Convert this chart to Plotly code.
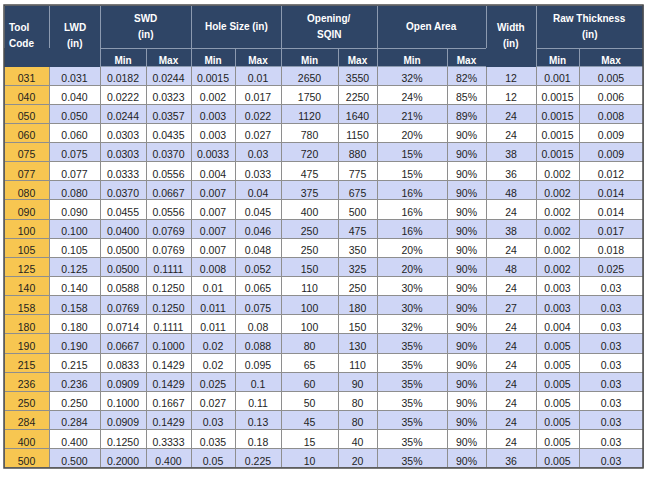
import plotly.graph_objects as go

# ---------------- data ----------------
tool_code = ["031", "040", "050", "060", "075", "077", "080", "090", "100", "105", "125",
             "140", "158", "180", "190", "215", "236", "250", "284", "400", "500"]
lwd = ["0.031", "0.040", "0.050", "0.060", "0.075", "0.077", "0.080", "0.090", "0.100", "0.105", "0.125",
       "0.140", "0.158", "0.180", "0.190", "0.215", "0.236", "0.250", "0.284", "0.400", "0.500"]
swd_min = ["0.0182", "0.0222", "0.0244", "0.0303", "0.0303", "0.0333", "0.0370", "0.0455", "0.0400", "0.0500", "0.0500",
           "0.0588", "0.0769", "0.0714", "0.0667", "0.0833", "0.0909", "0.1000", "0.0909", "0.1250", "0.2000"]
swd_max = ["0.0244", "0.0323", "0.0357", "0.0435", "0.0370", "0.0556", "0.0667", "0.0556", "0.0769", "0.0769", "0.1111",
           "0.1250", "0.1250", "0.1111", "0.1000", "0.1429", "0.1429", "0.1667", "0.1429", "0.3333", "0.400"]
hole_min = ["0.0015", "0.002", "0.003", "0.003", "0.0033", "0.004", "0.007", "0.007", "0.007", "0.007", "0.008",
            "0.01", "0.011", "0.011", "0.02", "0.02", "0.025", "0.027", "0.03", "0.035", "0.05"]
hole_max = ["0.01", "0.017", "0.022", "0.027", "0.03", "0.033", "0.04", "0.045", "0.046", "0.048", "0.052",
            "0.065", "0.075", "0.08", "0.088", "0.095", "0.1", "0.11", "0.13", "0.18", "0.225"]
open_min = ["2650", "1750", "1120", "780", "720", "475", "375", "400", "250", "250", "150",
            "110", "100", "100", "80", "65", "60", "50", "45", "15", "10"]
open_max = ["3550", "2250", "1640", "1150", "880", "775", "675", "500", "475", "350", "325",
            "250", "180", "150", "130", "110", "90", "80", "80", "40", "20"]
area_min = ["32%", "24%", "21%", "20%", "15%", "15%", "16%", "16%", "16%", "20%", "20%",
            "30%", "30%", "32%", "35%", "35%", "35%", "35%", "35%", "35%", "35%"]
area_max = ["82%", "85%", "89%", "90%", "90%", "90%", "90%", "90%", "90%", "90%", "90%",
            "90%", "90%", "90%", "90%", "90%", "90%", "90%", "90%", "90%", "90%"]
width_in = ["12", "12", "24", "24", "38", "36", "48", "24", "38", "24", "48",
            "24", "27", "24", "24", "24", "24", "24", "24", "24", "36"]
raw_min = ["0.001", "0.0015", "0.0015", "0.0015", "0.0015", "0.002", "0.002", "0.002", "0.002", "0.002", "0.002",
           "0.003", "0.003", "0.004", "0.005", "0.005", "0.005", "0.005", "0.005", "0.005", "0.005"]
raw_max = ["0.005", "0.006", "0.008", "0.009", "0.009", "0.012", "0.014", "0.014", "0.017", "0.018", "0.025",
           "0.03", "0.03", "0.03", "0.03", "0.03", "0.03", "0.03", "0.03", "0.03", "0.03"]

group_labels = ["Tool<br>Code", "LWD<br>(in)", "SWD<br>(in)", "Hole Size (in)", "Opening/<br>SQIN",
                "Open Area", "Width<br>(in)", "Raw Thickness<br>(in)"]
group_span = [1, 1, 2, 2, 2, 2, 1, 2]
rowspan_groups = [0, 1, 6]  # header labels spanning both header rows
sub_labels = ["", "", "Min", "Max", "Min", "Max", "Min", "Max", "Min", "Max", "", "Min", "Max"]

columns = [tool_code, lwd, swd_min, swd_max, hole_min, hole_max, open_min, open_max,
           area_min, area_max, width_in, raw_min, raw_max]

# ---------------- layout / style ----------------
W, H = 650, 479
col_px = [45, 51, 46, 45, 44, 46, 57, 39, 70, 39, 50, 43, 64]
left_px, top_px = 4, 5
head1_h, head2_h, row_h = 43, 18, 19.14
line_gap = 16

NAVY = "#2f4566"
GOLD = "#f7c651"
LAV = "#cfd6f6"
WHITE = "#ffffff"
HEAD_LINE = "#8c9ab0"
BODY_LINE = "#8e8e8e"
FONT = "Liberation Sans, Arial, sans-serif"
HFONT = dict(family=FONT, size=10, color="white", weight="bold")

total_px = sum(col_px)
x0 = left_px / W
x1 = (left_px + total_px) / W

group_px = []
i = 0
for s in group_span:
    group_px.append(sum(col_px[i:i + s]))
    i += s

n = len(tool_code)
row_fill = [LAV if r % 2 == 0 else WHITE for r in range(n)]
fills = [[GOLD] * n] + [row_fill for _ in columns[1:]]

fig = go.Figure()

# top header row (merged groups); labels drawn as annotations below
fig.add_trace(go.Table(
    domain=dict(x=[x0, x1], y=[0.5, 1 - top_px / H]),
    columnwidth=group_px,
    header=dict(values=["" for _ in group_labels], fill_color=NAVY,
                line=dict(color=HEAD_LINE, width=1), font=HFONT, height=head1_h),
    cells=dict(values=[[] for _ in group_labels], height=1),
))

# sub header + body
sub_line = [NAVY if lab == "" else HEAD_LINE for lab in sub_labels]
fig.add_trace(go.Table(
    domain=dict(x=[x0, x1], y=[0, 1 - (top_px + head1_h) / H]),
    columnwidth=col_px,
    header=dict(values=sub_labels, fill_color=NAVY, line=dict(color=sub_line, width=1),
                font=HFONT, align="center", height=head2_h),
    cells=dict(values=columns, fill_color=fills, line=dict(color=BODY_LINE, width=1),
               font=dict(family=FONT, size=10.5, color="#1e1e1e"),
               align="center", height=row_h),
))

# header labels
edges = [left_px]
for w in group_px:
    edges.append(edges[-1] + w)
for g, lab in enumerate(group_labels):
    if g in rowspan_groups:
        yc_px = top_px + (head1_h + head2_h) / 2
    else:
        yc_px = top_px + head1_h / 2
    lines = lab.split("<br>")
    for k, txt in enumerate(lines):
        y_px = yc_px + (k - (len(lines) - 1) / 2) * line_gap
        if g == 0:
            xa, xanch = (edges[g] + 3) / W, "left"
        else:
            xa, xanch = (edges[g] + edges[g + 1]) / 2 / W, "center"
        fig.add_annotation(x=xa, xanchor=xanch, y=1 - y_px / H, yanchor="middle",
                           xref="paper", yref="paper", text=txt, showarrow=False,
                           font=HFONT)

# outer frame
bottom_px = top_px + head1_h + head2_h + row_h * n
fig.add_shape(type="rect", xref="paper", yref="paper", layer="above",
              x0=x0, x1=x1, y0=1 - bottom_px / H, y1=1 - top_px / H,
              line=dict(color="#4d4d4d", width=1.5))

fig.update_layout(width=W, height=H, margin=dict(l=0, r=0, t=0, b=0),
                  paper_bgcolor="white", plot_bgcolor="white")
fig.write_html("out.html", config={"displayModeBar": False},
               post_script="document.body.style.margin='0';document.body.style.overflow='hidden';")
